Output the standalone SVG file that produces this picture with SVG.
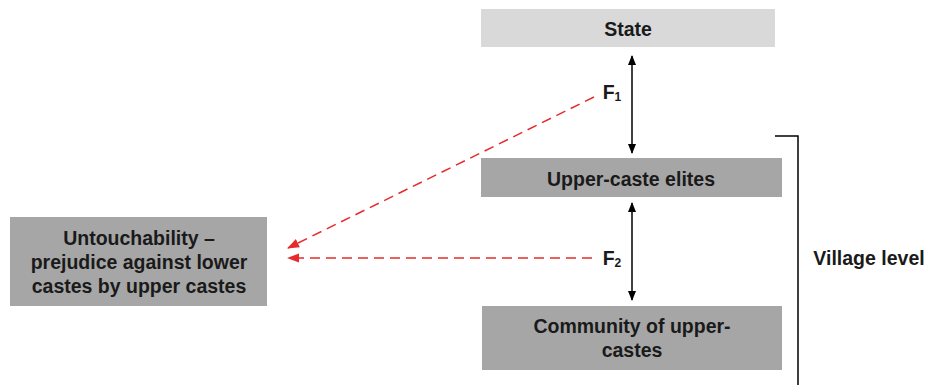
<svg xmlns="http://www.w3.org/2000/svg" width="931" height="385" viewBox="0 0 931 385">
<style>
text{font-family:"Liberation Sans",Arial,sans-serif;font-weight:bold;fill:#1a1a1a;text-anchor:middle;font-size:19.5px}
.box{fill:#a6a6a6}
.light{fill:#d9d9d9}
.blk{stroke:#000;stroke-width:1.5;fill:none}
.red{stroke:#e52b2b;stroke-width:1.5;stroke-dasharray:10 6;fill:none}
.sub{font-size:12px}
</style>
<defs>
<marker id="ab" markerWidth="10" markerHeight="10" refX="9" refY="5" orient="auto-start-reverse" markerUnits="userSpaceOnUse"><path d="M0,1 L10,5 L0,9 Z" fill="#000"/></marker>
<marker id="ar" markerWidth="12" markerHeight="10" refX="11" refY="5" orient="auto" markerUnits="userSpaceOnUse"><path d="M0,0.5 L12,5 L0,9.5 Z" fill="#e52b2b"/></marker>
</defs>
<rect width="931" height="385" fill="#fff"/>
<g id="state"><rect class="light" x="481" y="9" width="294" height="38"/><text x="628" y="36">State</text></g>
<g id="elites"><rect class="box" x="481" y="158" width="301" height="39"/><text x="631" y="186">Upper-caste elites</text></g>
<g id="community"><rect class="box" x="482" y="306" width="300" height="64"/><text x="632" y="333">Community of upper-</text><text x="632" y="357">castes</text></g>
<g id="untouch"><rect class="box" x="10" y="217" width="257" height="89"/><text x="139" y="245">Untouchability –</text><text x="139" y="269">prejudice against lower</text><text x="139" y="293">castes by upper castes</text></g>
<g id="village"><path class="blk" d="M775,136 H798 V385"/><text x="869" y="265">Village level</text></g>
<g id="labels"><text x="612" y="99">F<tspan class="sub" dy="2">1</tspan></text><text x="612" y="265">F<tspan class="sub" dy="2">2</tspan></text></g>
<g id="connectors">
<line class="blk" x1="632" y1="56" x2="632" y2="153" marker-start="url(#ab)" marker-end="url(#ab)"/>
<line class="blk" x1="632" y1="203" x2="632" y2="300" marker-start="url(#ab)" marker-end="url(#ab)"/>
<line class="red" x1="594" y1="97" x2="288" y2="248" marker-end="url(#ar)"/>
<line class="red" x1="592" y1="258" x2="288" y2="258" marker-end="url(#ar)"/>
</g>
</svg>
